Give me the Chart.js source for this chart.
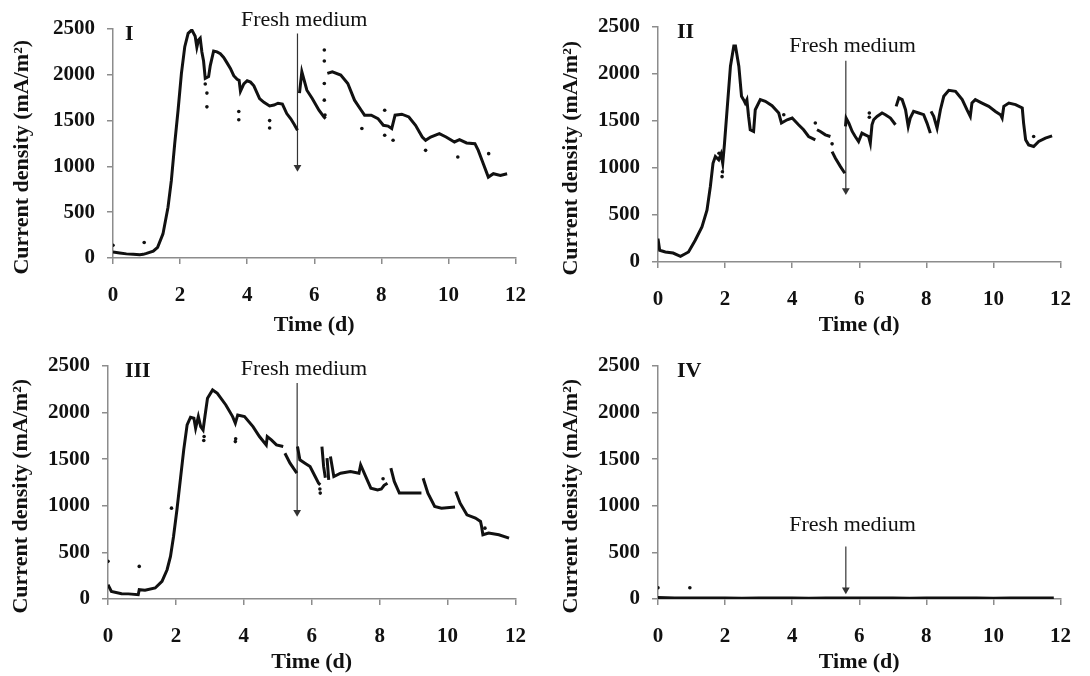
<!DOCTYPE html>
<html>
<head>
<meta charset="utf-8">
<title>Current density vs time</title>
<script src="https://cdn.jsdelivr.net/npm/chart.js@4"></script>
<style>
  body { margin: 0; background: #fff; }
  #wrap { position: relative; width: 1090px; height: 676px; overflow: hidden; }
  #wrap canvas { position: absolute; }
</style>
</head>
<body>
<div id="wrap">
  <canvas id="panel1" width="545" height="338" style="left:0;top:0"></canvas>
  <canvas id="panel2" width="545" height="338" style="left:545px;top:0"></canvas>
  <canvas id="panel3" width="545" height="338" style="left:0;top:338px"></canvas>
  <canvas id="panel4" width="545" height="338" style="left:545px;top:338px"></canvas>
</div>
<script>
// ---- data (time in d, current density in mA/m2) ----
// null = break in the record

// Reactor I
const daysI = [0, 0.2, 0.4, 0.6, 0.8, 0.9,
  1.0, 1.2, 1.33, 1.49, 1.64, 1.74, 1.84, 1.94, 2.04, 2.14, 2.24, 2.35,
  2.45, 2.5, 2.55, 2.6, 2.65, 2.7, 2.75, 2.85, 2.9,
  3.0, 3.1, 3.2, 3.3, 3.4, 3.5, 3.6, 3.7, 3.76, 3.8, 3.9,
  4.0, 4.1, 4.2, 4.37, 4.5, 4.67, 4.8, 4.92, 5.05, 5.18, 5.3, 5.4, 5.5,
  5.53,
  5.56, 5.63, 5.78, 5.94, 6.14, 6.29, 6.34,
  6.36,
  6.39, 6.54, 6.79, 7.0, 7.2, 7.4, 7.5, 7.7, 7.9, 8.06, 8.2, 8.31, 8.41, 8.61, 8.82, 9.02,
  9.22, 9.32, 9.47, 9.73, 9.93, 10.18, 10.33, 10.54, 10.79, 10.89, 11.04, 11.19, 11.34, 11.55, 11.75];
const currentI = [65, 55, 45, 40, 35, 40,
  50, 75, 117, 263, 555, 847, 1248, 1613, 2015, 2307, 2453, 2490,
  2420, 2300, 2380, 2400, 2250, 2150, 1960, 1980, 2100,
  2260, 2250, 2230, 2190, 2130, 2070, 1990, 1950, 1940, 1820, 1900,
  1935, 1920, 1880, 1740, 1700, 1660, 1670, 1690, 1680, 1577, 1520, 1460, 1394,
  null,
  1800, 2033, 1832, 1741, 1613, 1540, 1522,
  null,
  2015, 2033, 1997, 1905, 1723, 1613, 1559, 1559, 1522, 1449, 1440, 1413, 1559, 1570, 1540, 1449,
  1321, 1285, 1321, 1358, 1321, 1267, 1292, 1256, 1248, 1175, 1029, 883, 920, 901, 920];
const dotDaysI = [0, 0.93, 2.75, 2.8, 2.8, 3.75, 3.75, 4.67, 4.67, 6.3, 6.3, 6.3, 6.3, 6.32, 7.42, 8.1, 8.1, 8.35, 9.32, 10.28, 11.2];
const dotCurrentI = [140, 170, 1900, 1800, 1650, 1600, 1510, 1500, 1420, 2270, 2150, 1905, 1723, 1560, 1413, 1613, 1340, 1285, 1175, 1102, 1139];

// Reactor II
const daysII = [0, 0.05, 0.22, 0.45, 0.67, 0.8, 0.91,
  1.11, 1.31, 1.46, 1.56, 1.64, 1.71, 1.81, 1.88, 1.93, 1.98,
  2.06, 2.16, 2.26, 2.31, 2.41, 2.49, 2.55, 2.6, 2.65, 2.7, 2.75, 2.85, 2.9,
  3.05, 3.2, 3.4, 3.6, 3.68, 3.85, 4.0, 4.19, 4.34, 4.49, 4.69,
  4.71,
  4.74, 4.84, 4.99, 5.14,
  5.17,
  5.19, 5.29, 5.44, 5.57,
  5.58,
  5.59, 5.61, 5.69, 5.79, 5.88, 5.98, 6.08, 6.18, 6.28, 6.33, 6.38, 6.43, 6.53, 6.68, 6.78, 6.93, 7.08,
  7.09,
  7.1, 7.18, 7.28, 7.38, 7.46, 7.52, 7.62, 7.77, 7.92, 8.02, 8.12,
  8.13,
  8.14, 8.22, 8.32, 8.42, 8.52, 8.67, 8.87, 9.07, 9.21, 9.31, 9.36, 9.46, 9.66, 9.86, 10.06, 10.21,
  10.26, 10.31, 10.46, 10.66, 10.86, 10.9, 10.96, 11.05, 11.2, 11.35, 11.55, 11.75];
const currentII = [249, 125, 107, 95, 60, 85, 107,
  231, 374, 552, 801, 1050, 1122, 1086, 1150, 1050, 1250,
  1620, 2083, 2297, 2297, 2083, 1763, 1727, 1691, 1727, 1549, 1407, 1389, 1620,
  1727, 1709, 1663, 1585, 1478, 1513, 1531, 1460, 1407, 1335, 1300,
  null,
  1407, 1389, 1353, 1335,
  null,
  1175, 1104, 1015, 944,
  null,
  1442, 1531, 1478, 1389, 1335, 1282, 1371, 1353, 1335, 1264, 1460, 1513, 1549, 1585, 1567, 1531, 1460,
  null,
  1656, 1745, 1727, 1620, 1442, 1531, 1602, 1585, 1567, 1478, 1371,
  null,
  1602, 1549, 1424, 1620, 1763, 1827, 1816, 1727, 1620, 1549, 1691, 1727, 1691, 1656, 1602, 1567,
  1531, 1656, 1691, 1674, 1638, 1478, 1300, 1246, 1229, 1282, 1318, 1342];
const dotDaysII = [1.82, 1.91, 1.92, 3.75, 4.69, 5.19, 6.3, 6.3, 11.2];
const dotCurrentII = [1157, 908, 960, 1567, 1478, 1257, 1585, 1540, 1335];

// Reactor III
const daysIII = [0, 0.1, 0.4, 0.6, 0.89, 0.92,
  1.09, 1.39, 1.59, 1.74, 1.84, 1.93, 2.03, 2.13, 2.23, 2.33, 2.43,
  2.53, 2.58, 2.66, 2.73, 2.8, 2.86, 2.93, 3.08, 3.22, 3.47, 3.67, 3.75, 3.82,
  4.02, 4.27, 4.46, 4.66, 4.69, 4.81, 4.96, 5.16,
  5.18,
  5.21, 5.36, 5.56,
  5.57,
  5.58, 5.65, 5.8, 5.95, 6.1, 6.2, 6.25,
  6.27,
  6.3, 6.35, 6.4,
  6.42,
  6.45, 6.5,
  6.52,
  6.55, 6.65, 6.85, 7.14, 7.39, 7.44, 7.59, 7.74, 7.94, 8.05, 8.13, 8.23,
  8.28,
  8.33, 8.43, 8.58, 8.83, 9.23,
  9.25,
  9.28, 9.42, 9.62, 9.82, 10.22,
  10.23,
  10.24, 10.37, 10.57, 10.82, 10.97, 11.0, 11.04, 11.21, 11.51, 11.81];
const currentIII = [154, 82, 57, 55, 46, 100,
  93, 118, 189, 314, 457, 671, 957, 1278, 1600, 1868, 1950,
  1939, 1832, 1957, 1850, 1814, 1975, 2153, 2243, 2207, 2082, 1957, 1886, 1975,
  1957, 1850, 1743, 1653, 1743, 1707, 1653, 1636,
  null,
  1564, 1457, 1350,
  null,
  1636, 1493, 1457, 1421, 1314, 1243, 1225,
  null,
  1636, 1420, 1300,
  null,
  1511, 1278,
  null,
  1528, 1314, 1350, 1368, 1350, 1439, 1314, 1189, 1171, 1180, 1220, 1243,
  null,
  1403, 1261, 1136, 1136, 1136,
  null,
  1296, 1136, 993, 975, 986,
  null,
  1153, 1028, 903, 868, 832, 780, 689, 707, 689, 653];
const dotDaysIII = [0, 0.92, 1.87, 2.82, 2.83, 3.75, 3.76, 6.24, 6.25, 8.1, 11.1];
const dotCurrentIII = [404, 350, 975, 1700, 1743, 1689, 1720, 1180, 1136, 1290, 760];

// Reactor IV (control)
const daysIV = [0, 0.5, 1, 1.5, 2, 2.5, 3, 3.5, 4, 4.5, 5, 5.5, 6, 6.5, 7, 7.5, 8, 8.5, 9, 9.5, 10, 10.5, 11, 11.5, 11.8];
const currentIV = [15, 12, 10, 10, 12, 9, 10, 10, 11, 9, 10, 10, 12, 10, 10, 9, 10, 11, 10, 10, 9, 10, 10, 10, 10];
const dotDaysIV = [0, 0.95];
const dotCurrentIV = [120, 120];

// fresh medium feed: arrow day, arrow from/to level, label day/level
const feedDays = [5.5, 5.6, 5.57, 5.6];
const arrowTop = [2450, 2141, 2317, 564];
const arrowTip = [990, 760, 930, 100];
const noteDays = [5.7, 5.8, 5.77, 5.8];
const noteLevels = [2598, 2300, 2465, 796];

const panelTags = ['I', 'II', 'III', 'IV'];
const xTicks = [0, 2, 4, 6, 8, 10, 12];
const yTicks = [0, 500, 1000, 1500, 2000, 2500];

// ---- styling ----
const INK = '#111111';
const AXIS = '#8c8c8c';
const SERIF = '"Liberation Serif", "Times New Roman", serif';
const CW = 545, CH = 338;

// plot box of every panel inside its own canvas
const boxes = [
  { left: 113, right: 526, top: 29, bottom: 258, yTitlePad: 9, xTitlePad: -1, tagDx: 12 },
  { left: 113, right: 534, top: 27, bottom: 262, yTitlePad: 13, xTitlePad: -1, tagDx: 19 },
  { left: 108, right: 528, top: 28, bottom: 261, yTitlePad: 8, xTitlePad: 0, tagDx: 17 },
  { left: 113, right: 534, top: 28, bottom: 261, yTitlePad: 13, xTitlePad: 0, tagDx: 19 },
];

// panel tag + "Fresh medium" note
const panelText = {
  id: 'panelText',
  afterDraw(chart, args, opts) {
    const { ctx, chartArea, scales } = chart;
    ctx.save();
    ctx.fillStyle = INK;
    ctx.textBaseline = 'middle';
    ctx.textAlign = 'left';
    ctx.font = 'bold 22px ' + SERIF;
    ctx.fillText(opts.tag, chartArea.left + opts.tagDx, chartArea.top + 5);
    ctx.textAlign = 'center';
    ctx.font = '22px ' + SERIF;
    ctx.fillText('Fresh medium', scales.x.getPixelForValue(opts.noteDay), scales.y.getPixelForValue(opts.noteLevel));
    ctx.restore();
  }
};

function toPoints(xs, ys) {
  return xs.map((x, i) => ({ x: x, y: ys[i] }));
}

function buildPanel(idx, days, current, dotDays, dotCurrent) {
  const box = boxes[idx];
  const tickFont = { family: SERIF, size: 21, weight: 'bold' };
  const titleFont = { family: SERIF, size: 22, weight: 'bold' };

  return new Chart(document.getElementById('panel' + (idx + 1)), {
    type: 'line',
    data: {
      datasets: [
        {
          data: toPoints(days, current),
          borderColor: INK,
          borderWidth: 3,
          pointRadius: 0,
          spanGaps: false,
          tension: 0,
        },
        {
          data: toPoints(dotDays, dotCurrent),
          showLine: false,
          pointRadius: 1.8,
          pointBorderWidth: 0,
          pointBackgroundColor: INK,
        },
        {
          // feed arrow
          data: [{ x: feedDays[idx], y: arrowTop[idx] }, { x: feedDays[idx], y: arrowTip[idx] }],
          borderColor: '#333',
          borderWidth: 1.2,
          pointRadius: [0, 4.5],
          pointStyle: 'triangle',
          pointRotation: 180,
          pointBorderWidth: 0,
          pointBackgroundColor: '#333',
        },
      ]
    },
    options: {
      responsive: false,
      animation: false,
      events: [],
      layout: { padding: { left: 0, top: box.top, right: CW - box.right, bottom: 0 } },
      plugins: {
        legend: { display: false },
        tooltip: { enabled: false },
        panelText: { tag: panelTags[idx], tagDx: box.tagDx, noteDay: noteDays[idx], noteLevel: noteLevels[idx] },
      },
      scales: {
        x: {
          type: 'linear',
          min: xTicks[0],
          max: xTicks[xTicks.length - 1],
          afterBuildTicks: s => { s.ticks = xTicks.map(v => ({ value: v })); },
          afterFit: s => { s.height = CH - box.bottom; },
          ticks: { font: tickFont, color: INK, padding: 19, maxRotation: 0, callback: v => String(v) },
          grid: { drawOnChartArea: false, tickLength: 6, color: AXIS, lineWidth: 1.5 },
          border: { color: AXIS, width: 1.5 },
          title: { display: true, text: 'Time (d)', font: titleFont, color: INK, padding: { top: 0, bottom: box.xTitlePad } },
        },
        y: {
          min: yTicks[0],
          max: yTicks[yTicks.length - 1],
          afterBuildTicks: s => { s.ticks = yTicks.map(v => ({ value: v })); },
          afterFit: s => { s.width = box.left; },
          ticks: { font: tickFont, color: INK, padding: 12, callback: v => String(v) },
          grid: { drawOnChartArea: false, tickLength: 6, color: AXIS, lineWidth: 1.5 },
          border: { color: AXIS, width: 1.5 },
          // trailing spaces push the rotated title a little below the plot centre, like the original
          title: { display: true, text: 'Current density (mA/m²)     ', font: titleFont, color: INK, padding: { top: box.yTitlePad, bottom: 0 } },
        }
      }
    },
    plugins: [panelText]
  });
}

buildPanel(0, daysI, currentI, dotDaysI, dotCurrentI);
buildPanel(1, daysII, currentII, dotDaysII, dotCurrentII);
buildPanel(2, daysIII, currentIII, dotDaysIII, dotCurrentIII);
buildPanel(3, daysIV, currentIV, dotDaysIV, dotCurrentIV);
</script>
</body>
</html>
